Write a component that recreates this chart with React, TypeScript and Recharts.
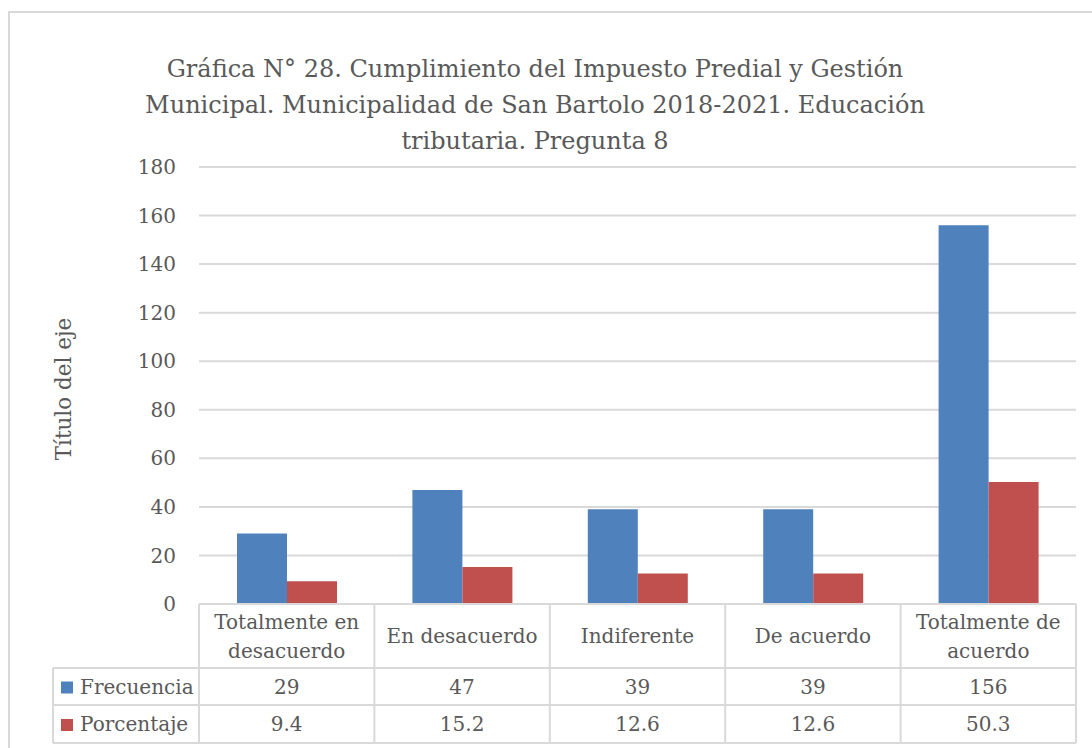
import { Bar, BarChart, CartesianGrid, XAxis, YAxis } from "recharts"

const categories = ["Totalmente en desacuerdo", "En desacuerdo", "Indiferente", "De acuerdo", "Totalmente de acuerdo"]
const categoryLines = [["Totalmente en", "desacuerdo"], ["En desacuerdo"], ["Indiferente"], ["De acuerdo"], ["Totalmente de", "acuerdo"]]
const frecuencia = [29, 47, 39, 39, 156]
const porcentaje = [9.4, 15.2, 12.6, 12.6, 50.3]
const yTicks = [0, 20, 40, 60, 80, 100, 120, 140, 160, 180]

const seriesNames = ["Frecuencia", "Porcentaje"]
const seriesColors = ["#4F81BD", "#C0504D"]

const data = categories.map((c, i) => ({
    category: c,
    frecuencia: frecuencia[i],
    porcentaje: porcentaje[i],
}))

const FONT = "'DejaVu Serif', serif"
const TEXT = "#595959"
const LINE = "#d9d9d9"

// table geometry (relative to the axis line)
const ROW1 = 64
const ROW2 = 101
const ROW3 = 139
const LEGEND_LEFT = 53

const TableTick = (props: any) => {
    const { x, y, payload, index } = props
    const half = payload?.offset || 87.7
    const left = x - half
    const right = x + half
    const lines = categoryLines[index] || [payload.value]
    const lineH = 29
    const startY = y + ROW1 / 2 - ((lines.length - 1) * lineH) / 2
    return (
        <g>
            <line x1={left} y1={y} x2={left} y2={y + ROW3} stroke={LINE} strokeWidth={2} />
            {index === categories.length - 1 && (
                <line x1={right} y1={y} x2={right} y2={y + ROW3} stroke={LINE} strokeWidth={2} />
            )}
            <line x1={left} y1={y + ROW1} x2={right} y2={y + ROW1} stroke={LINE} strokeWidth={2} />
            <line x1={left} y1={y + ROW2} x2={right} y2={y + ROW2} stroke={LINE} strokeWidth={2} />
            <line x1={left} y1={y + ROW3} x2={right} y2={y + ROW3} stroke={LINE} strokeWidth={2} />
            {lines.map((l: string, k: number) => (
                <text key={k} x={x} y={startY + k * lineH} dy="0.35em" textAnchor="middle" fill={TEXT} fontSize={20} fontFamily={FONT}>
                    {l}
                </text>
            ))}
            <text x={x} y={y + (ROW1 + ROW2) / 2} dy="0.35em" textAnchor="middle" fill={TEXT} fontSize={20} fontFamily={FONT}>
                {frecuencia[index]}
            </text>
            <text x={x} y={y + (ROW2 + ROW3) / 2} dy="0.35em" textAnchor="middle" fill={TEXT} fontSize={20} fontFamily={FONT}>
                {porcentaje[index]}
            </text>
            {index === 0 && (
                <g>
                    <line x1={LEGEND_LEFT} y1={y + ROW1} x2={left} y2={y + ROW1} stroke={LINE} strokeWidth={2} />
                    <line x1={LEGEND_LEFT} y1={y + ROW2} x2={left} y2={y + ROW2} stroke={LINE} strokeWidth={2} />
                    <line x1={LEGEND_LEFT} y1={y + ROW3} x2={left} y2={y + ROW3} stroke={LINE} strokeWidth={2} />
                    <line x1={LEGEND_LEFT} y1={y + ROW1} x2={LEGEND_LEFT} y2={y + ROW3} stroke={LINE} strokeWidth={2} />
                    {seriesNames.map((name, k) => {
                        const cy = y + (k === 0 ? (ROW1 + ROW2) / 2 : (ROW2 + ROW3) / 2)
                        return (
                            <g key={name}>
                                <rect x={61} y={cy - 5} width={12} height={12} fill={seriesColors[k]} />
                                <text x={80} y={cy} dy="0.35em" fill={TEXT} fontSize={20} fontFamily={FONT}>
                                    {name}
                                </text>
                            </g>
                        )
                    })}
                </g>
            )}
        </g>
    )
}

export default function App() {
    return (
        <div style={{ position: "absolute", left: 0, top: 0, width: 1092, height: 748, overflow: "hidden", background: "#fff" }}>
            <div style={{ position: "absolute", left: 8, top: 11, width: 1100, height: 760, border: "2px solid #d9d9d9", boxSizing: "border-box" }} />
            <div
                style={{
                    position: "absolute",
                    left: 85,
                    top: 51,
                    width: 900,
                    textAlign: "center",
                    fontFamily: FONT,
                    fontSize: 24,
                    lineHeight: "36px",
                    color: TEXT,
                }}
            >
                Gráfica N° 28. Cumplimiento del Impuesto Predial y Gestión
                <br />
                Municipal. Municipalidad de San Bartolo 2018-2021. Educación
                <br />
                tributaria. Pregunta 8
            </div>
            <div
                style={{
                    position: "absolute",
                    left: 63,
                    top: 389,
                    transform: "translate(-50%, -50%) rotate(-90deg)",
                    whiteSpace: "nowrap",
                    fontFamily: FONT,
                    fontSize: 21.5,
                    color: TEXT,
                }}
            >
                Título del eje
            </div>
            <div style={{ position: "absolute", left: 0, top: 0 }}>
                <BarChart
                    width={1092}
                    height={748}
                    data={data}
                    margin={{ top: 167, right: 16, bottom: 5, left: 139 }}
                    barGap={0}
                    barSize={50}
                >
                    <CartesianGrid vertical={false} stroke={LINE} strokeWidth={2} />
                    <XAxis
                        dataKey="category"
                        height={139}
                        tickLine={false}
                        tickSize={0}
                        tickMargin={0}
                        axisLine={{ stroke: LINE, strokeWidth: 2 }}
                        interval={0}
                        tick={<TableTick />}
                    />
                    <YAxis
                        width={60}
                        domain={[0, 180]}
                        ticks={yTicks}
                        tickLine={false}
                        axisLine={false}
                        tickSize={0}
                        tickMargin={23}
                        tick={{ fill: TEXT, fontSize: 20, fontFamily: FONT }}
                    />
                    <Bar dataKey="frecuencia" fill={seriesColors[0]} isAnimationActive={false} />
                    <Bar dataKey="porcentaje" fill={seriesColors[1]} isAnimationActive={false} />
                </BarChart>
            </div>
        </div>
    )
}
